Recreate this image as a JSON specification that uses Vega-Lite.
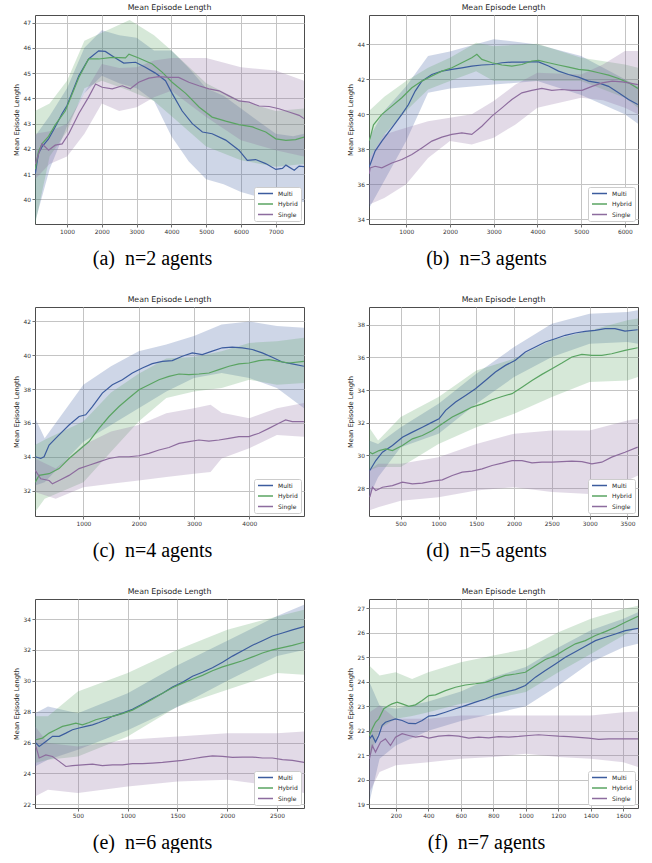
{
"$schema": "https://vega.github.io/schema/vega-lite/v6.json",
"background": "white",
"padding": {"left": 12, "top": 3, "right": 0, "bottom": 0},
"columns": 2,
"spacing": {"row": 26, "column": 41},
"resolve": {"scale": {"color": "independent"}, "legend": {"color": "independent"}},
"datasets": {
"L": [
{"p":"a","s":"Multi","x":90,"y":41.03},{"p":"a","s":"Multi","x":180,"y":41.82},{"p":"a","s":"Multi","x":280,"y":42.08},{"p":"a","s":"Multi","x":470,"y":42.4},{"p":"a","s":"Multi","x":660,"y":42.87},{"p":"a","s":"Multi","x":860,"y":43.4},{"p":"a","s":"Multi","x":1000,"y":43.72},{"p":"a","s":"Multi","x":1340,"y":44.9},{"p":"a","s":"Multi","x":1620,"y":45.56},{"p":"a","s":"Multi","x":1910,"y":45.88},{"p":"a","s":"Multi","x":2100,"y":45.86},{"p":"a","s":"Multi","x":2390,"y":45.6},{"p":"a","s":"Multi","x":2630,"y":45.4},{"p":"a","s":"Multi","x":2970,"y":45.43},{"p":"a","s":"Multi","x":3250,"y":45.23},{"p":"a","s":"Multi","x":3540,"y":45.0},{"p":"a","s":"Multi","x":3830,"y":44.7},{"p":"a","s":"Multi","x":4020,"y":44.2},{"p":"a","s":"Multi","x":4310,"y":43.5},{"p":"a","s":"Multi","x":4600,"y":43.0},{"p":"a","s":"Multi","x":4890,"y":42.67},{"p":"a","s":"Multi","x":5170,"y":42.6},{"p":"a","s":"Multi","x":5560,"y":42.35},{"p":"a","s":"Multi","x":5940,"y":41.95},{"p":"a","s":"Multi","x":6180,"y":41.55},{"p":"a","s":"Multi","x":6420,"y":41.58},{"p":"a","s":"Multi","x":6710,"y":41.42},{"p":"a","s":"Multi","x":7000,"y":41.19},{"p":"a","s":"Multi","x":7190,"y":41.23},{"p":"a","s":"Multi","x":7290,"y":41.36},{"p":"a","s":"Multi","x":7530,"y":41.16},{"p":"a","s":"Multi","x":7670,"y":41.32},{"p":"a","s":"Multi","x":7810,"y":41.3},
{"p":"a","s":"Hybrid","x":90,"y":41.2},{"p":"a","s":"Hybrid","x":180,"y":41.9},{"p":"a","s":"Hybrid","x":280,"y":42.2},{"p":"a","s":"Hybrid","x":470,"y":42.5},{"p":"a","s":"Hybrid","x":660,"y":42.95},{"p":"a","s":"Hybrid","x":950,"y":43.5},{"p":"a","s":"Hybrid","x":1340,"y":44.83},{"p":"a","s":"Hybrid","x":1620,"y":45.56},{"p":"a","s":"Hybrid","x":1910,"y":45.56},{"p":"a","s":"Hybrid","x":2300,"y":45.62},{"p":"a","s":"Hybrid","x":2680,"y":45.6},{"p":"a","s":"Hybrid","x":2780,"y":45.75},{"p":"a","s":"Hybrid","x":3060,"y":45.6},{"p":"a","s":"Hybrid","x":3450,"y":45.36},{"p":"a","s":"Hybrid","x":3740,"y":45.03},{"p":"a","s":"Hybrid","x":4020,"y":44.64},{"p":"a","s":"Hybrid","x":4410,"y":44.2},{"p":"a","s":"Hybrid","x":4800,"y":43.65},{"p":"a","s":"Hybrid","x":5170,"y":43.26},{"p":"a","s":"Hybrid","x":5560,"y":43.1},{"p":"a","s":"Hybrid","x":5940,"y":42.96},{"p":"a","s":"Hybrid","x":6330,"y":42.87},{"p":"a","s":"Hybrid","x":6710,"y":42.67},{"p":"a","s":"Hybrid","x":7000,"y":42.4},{"p":"a","s":"Hybrid","x":7290,"y":42.34},{"p":"a","s":"Hybrid","x":7570,"y":42.37},{"p":"a","s":"Hybrid","x":7810,"y":42.47},
{"p":"a","s":"Single","x":90,"y":41.4},{"p":"a","s":"Single","x":280,"y":42.2},{"p":"a","s":"Single","x":470,"y":41.95},{"p":"a","s":"Single","x":660,"y":42.15},{"p":"a","s":"Single","x":860,"y":42.2},{"p":"a","s":"Single","x":1050,"y":42.6},{"p":"a","s":"Single","x":1340,"y":43.4},{"p":"a","s":"Single","x":1620,"y":44.05},{"p":"a","s":"Single","x":1820,"y":44.57},{"p":"a","s":"Single","x":2010,"y":44.44},{"p":"a","s":"Single","x":2300,"y":44.38},{"p":"a","s":"Single","x":2590,"y":44.5},{"p":"a","s":"Single","x":2820,"y":44.38},{"p":"a","s":"Single","x":3060,"y":44.64},{"p":"a","s":"Single","x":3350,"y":44.8},{"p":"a","s":"Single","x":3640,"y":44.86},{"p":"a","s":"Single","x":3930,"y":44.83},{"p":"a","s":"Single","x":4210,"y":44.83},{"p":"a","s":"Single","x":4500,"y":44.64},{"p":"a","s":"Single","x":4790,"y":44.5},{"p":"a","s":"Single","x":5080,"y":44.38},{"p":"a","s":"Single","x":5370,"y":44.3},{"p":"a","s":"Single","x":5650,"y":44.1},{"p":"a","s":"Single","x":5940,"y":43.9},{"p":"a","s":"Single","x":6230,"y":43.85},{"p":"a","s":"Single","x":6520,"y":43.7},{"p":"a","s":"Single","x":6810,"y":43.68},{"p":"a","s":"Single","x":7090,"y":43.59},{"p":"a","s":"Single","x":7380,"y":43.46},{"p":"a","s":"Single","x":7670,"y":43.33},{"p":"a","s":"Single","x":7810,"y":43.2},

{"p":"b","s":"Multi","x":155,"y":37.0},{"p":"b","s":"Multi","x":177,"y":37.13},{"p":"b","s":"Multi","x":290,"y":37.9},{"p":"b","s":"Multi","x":444,"y":38.47},{"p":"b","s":"Multi","x":672,"y":39.23},{"p":"b","s":"Multi","x":900,"y":40.0},{"p":"b","s":"Multi","x":1053,"y":40.56},{"p":"b","s":"Multi","x":1206,"y":41.33},{"p":"b","s":"Multi","x":1358,"y":41.9},{"p":"b","s":"Multi","x":1587,"y":42.28},{"p":"b","s":"Multi","x":1816,"y":42.47},{"p":"b","s":"Multi","x":2044,"y":42.57},{"p":"b","s":"Multi","x":2273,"y":42.66},{"p":"b","s":"Multi","x":2500,"y":42.76},{"p":"b","s":"Multi","x":2730,"y":42.82},{"p":"b","s":"Multi","x":2960,"y":42.85},{"p":"b","s":"Multi","x":3190,"y":42.95},{"p":"b","s":"Multi","x":3416,"y":42.99},{"p":"b","s":"Multi","x":3645,"y":42.99},{"p":"b","s":"Multi","x":3873,"y":43.0},{"p":"b","s":"Multi","x":4026,"y":43.0},{"p":"b","s":"Multi","x":4255,"y":42.76},{"p":"b","s":"Multi","x":4483,"y":42.47},{"p":"b","s":"Multi","x":4712,"y":42.28},{"p":"b","s":"Multi","x":4940,"y":42.13},{"p":"b","s":"Multi","x":5170,"y":41.9},{"p":"b","s":"Multi","x":5398,"y":41.8},{"p":"b","s":"Multi","x":5627,"y":41.6},{"p":"b","s":"Multi","x":5855,"y":41.23},{"p":"b","s":"Multi","x":6084,"y":40.85},{"p":"b","s":"Multi","x":6297,"y":40.56},
{"p":"b","s":"Hybrid","x":155,"y":38.5},{"p":"b","s":"Hybrid","x":177,"y":38.66},{"p":"b","s":"Hybrid","x":253,"y":39.4},{"p":"b","s":"Hybrid","x":444,"y":40.0},{"p":"b","s":"Hybrid","x":672,"y":40.47},{"p":"b","s":"Hybrid","x":900,"y":40.95},{"p":"b","s":"Hybrid","x":1130,"y":41.52},{"p":"b","s":"Hybrid","x":1358,"y":41.9},{"p":"b","s":"Hybrid","x":1587,"y":42.19},{"p":"b","s":"Hybrid","x":1816,"y":42.47},{"p":"b","s":"Hybrid","x":2044,"y":42.66},{"p":"b","s":"Hybrid","x":2273,"y":42.95},{"p":"b","s":"Hybrid","x":2500,"y":43.24},{"p":"b","s":"Hybrid","x":2616,"y":43.43},{"p":"b","s":"Hybrid","x":2730,"y":43.14},{"p":"b","s":"Hybrid","x":2960,"y":42.95},{"p":"b","s":"Hybrid","x":3190,"y":42.82},{"p":"b","s":"Hybrid","x":3416,"y":42.76},{"p":"b","s":"Hybrid","x":3645,"y":42.85},{"p":"b","s":"Hybrid","x":3873,"y":43.05},{"p":"b","s":"Hybrid","x":4026,"y":43.08},{"p":"b","s":"Hybrid","x":4255,"y":42.95},{"p":"b","s":"Hybrid","x":4483,"y":42.82},{"p":"b","s":"Hybrid","x":4712,"y":42.7},{"p":"b","s":"Hybrid","x":4940,"y":42.57},{"p":"b","s":"Hybrid","x":5170,"y":42.51},{"p":"b","s":"Hybrid","x":5398,"y":42.38},{"p":"b","s":"Hybrid","x":5627,"y":42.24},{"p":"b","s":"Hybrid","x":5855,"y":42.05},{"p":"b","s":"Hybrid","x":6084,"y":41.8},{"p":"b","s":"Hybrid","x":6297,"y":41.48},
{"p":"b","s":"Single","x":155,"y":36.6},{"p":"b","s":"Single","x":177,"y":36.94},{"p":"b","s":"Single","x":290,"y":37.03},{"p":"b","s":"Single","x":444,"y":36.94},{"p":"b","s":"Single","x":672,"y":37.22},{"p":"b","s":"Single","x":900,"y":37.42},{"p":"b","s":"Single","x":1130,"y":37.7},{"p":"b","s":"Single","x":1358,"y":38.08},{"p":"b","s":"Single","x":1587,"y":38.47},{"p":"b","s":"Single","x":1816,"y":38.7},{"p":"b","s":"Single","x":2044,"y":38.85},{"p":"b","s":"Single","x":2273,"y":38.94},{"p":"b","s":"Single","x":2500,"y":38.85},{"p":"b","s":"Single","x":2730,"y":39.32},{"p":"b","s":"Single","x":2960,"y":39.9},{"p":"b","s":"Single","x":3190,"y":40.37},{"p":"b","s":"Single","x":3416,"y":40.85},{"p":"b","s":"Single","x":3645,"y":41.23},{"p":"b","s":"Single","x":3873,"y":41.37},{"p":"b","s":"Single","x":4102,"y":41.48},{"p":"b","s":"Single","x":4330,"y":41.37},{"p":"b","s":"Single","x":4560,"y":41.42},{"p":"b","s":"Single","x":4790,"y":41.37},{"p":"b","s":"Single","x":5020,"y":41.37},{"p":"b","s":"Single","x":5250,"y":41.6},{"p":"b","s":"Single","x":5480,"y":41.8},{"p":"b","s":"Single","x":5710,"y":41.9},{"p":"b","s":"Single","x":5940,"y":41.86},{"p":"b","s":"Single","x":6084,"y":41.8},{"p":"b","s":"Single","x":6297,"y":41.7},

{"p":"c","s":"Multi","x":130,"y":34.0},{"p":"c","s":"Multi","x":229,"y":33.9},{"p":"c","s":"Multi","x":289,"y":34.0},{"p":"c","s":"Multi","x":380,"y":34.69},{"p":"c","s":"Multi","x":560,"y":35.29},{"p":"c","s":"Multi","x":741,"y":35.88},{"p":"c","s":"Multi","x":922,"y":36.38},{"p":"c","s":"Multi","x":1042,"y":36.48},{"p":"c","s":"Multi","x":1163,"y":36.97},{"p":"c","s":"Multi","x":1343,"y":37.76},{"p":"c","s":"Multi","x":1524,"y":38.26},{"p":"c","s":"Multi","x":1705,"y":38.55},{"p":"c","s":"Multi","x":1886,"y":38.95},{"p":"c","s":"Multi","x":2066,"y":39.25},{"p":"c","s":"Multi","x":2247,"y":39.5},{"p":"c","s":"Multi","x":2428,"y":39.64},{"p":"c","s":"Multi","x":2608,"y":39.68},{"p":"c","s":"Multi","x":2789,"y":39.94},{"p":"c","s":"Multi","x":2970,"y":40.14},{"p":"c","s":"Multi","x":3150,"y":40.04},{"p":"c","s":"Multi","x":3331,"y":40.24},{"p":"c","s":"Multi","x":3512,"y":40.44},{"p":"c","s":"Multi","x":3693,"y":40.48},{"p":"c","s":"Multi","x":3873,"y":40.44},{"p":"c","s":"Multi","x":4054,"y":40.34},{"p":"c","s":"Multi","x":4235,"y":40.14},{"p":"c","s":"Multi","x":4416,"y":39.88},{"p":"c","s":"Multi","x":4596,"y":39.6},{"p":"c","s":"Multi","x":4777,"y":39.49},{"p":"c","s":"Multi","x":4988,"y":39.35},
{"p":"c","s":"Hybrid","x":130,"y":32.5},{"p":"c","s":"Hybrid","x":199,"y":32.9},{"p":"c","s":"Hybrid","x":380,"y":33.0},{"p":"c","s":"Hybrid","x":560,"y":33.3},{"p":"c","s":"Hybrid","x":741,"y":33.9},{"p":"c","s":"Hybrid","x":922,"y":34.4},{"p":"c","s":"Hybrid","x":1102,"y":34.9},{"p":"c","s":"Hybrid","x":1283,"y":35.68},{"p":"c","s":"Hybrid","x":1464,"y":36.38},{"p":"c","s":"Hybrid","x":1645,"y":36.97},{"p":"c","s":"Hybrid","x":1825,"y":37.47},{"p":"c","s":"Hybrid","x":2006,"y":37.96},{"p":"c","s":"Hybrid","x":2187,"y":38.26},{"p":"c","s":"Hybrid","x":2367,"y":38.55},{"p":"c","s":"Hybrid","x":2548,"y":38.75},{"p":"c","s":"Hybrid","x":2729,"y":38.89},{"p":"c","s":"Hybrid","x":2910,"y":38.85},{"p":"c","s":"Hybrid","x":3090,"y":38.89},{"p":"c","s":"Hybrid","x":3271,"y":38.95},{"p":"c","s":"Hybrid","x":3452,"y":39.15},{"p":"c","s":"Hybrid","x":3633,"y":39.35},{"p":"c","s":"Hybrid","x":3813,"y":39.49},{"p":"c","s":"Hybrid","x":3994,"y":39.54},{"p":"c","s":"Hybrid","x":4175,"y":39.68},{"p":"c","s":"Hybrid","x":4355,"y":39.74},{"p":"c","s":"Hybrid","x":4536,"y":39.64},{"p":"c","s":"Hybrid","x":4717,"y":39.54},{"p":"c","s":"Hybrid","x":4988,"y":39.64},
{"p":"c","s":"Single","x":130,"y":33.2},{"p":"c","s":"Single","x":229,"y":32.7},{"p":"c","s":"Single","x":380,"y":32.6},{"p":"c","s":"Single","x":440,"y":32.4},{"p":"c","s":"Single","x":560,"y":32.6},{"p":"c","s":"Single","x":741,"y":32.9},{"p":"c","s":"Single","x":922,"y":33.3},{"p":"c","s":"Single","x":1102,"y":33.5},{"p":"c","s":"Single","x":1283,"y":33.7},{"p":"c","s":"Single","x":1464,"y":33.9},{"p":"c","s":"Single","x":1645,"y":34.0},{"p":"c","s":"Single","x":1825,"y":34.0},{"p":"c","s":"Single","x":2006,"y":34.06},{"p":"c","s":"Single","x":2187,"y":34.2},{"p":"c","s":"Single","x":2367,"y":34.4},{"p":"c","s":"Single","x":2548,"y":34.55},{"p":"c","s":"Single","x":2729,"y":34.79},{"p":"c","s":"Single","x":2910,"y":34.89},{"p":"c","s":"Single","x":3090,"y":34.99},{"p":"c","s":"Single","x":3271,"y":34.93},{"p":"c","s":"Single","x":3452,"y":34.99},{"p":"c","s":"Single","x":3633,"y":35.09},{"p":"c","s":"Single","x":3813,"y":35.19},{"p":"c","s":"Single","x":3994,"y":35.19},{"p":"c","s":"Single","x":4175,"y":35.39},{"p":"c","s":"Single","x":4355,"y":35.68},{"p":"c","s":"Single","x":4536,"y":35.98},{"p":"c","s":"Single","x":4657,"y":36.18},{"p":"c","s":"Single","x":4777,"y":36.08},{"p":"c","s":"Single","x":4988,"y":36.08},

{"p":"d","s":"Multi","x":91,"y":29.08},{"p":"d","s":"Multi","x":170,"y":29.69},{"p":"d","s":"Multi","x":258,"y":30.2},{"p":"d","s":"Multi","x":390,"y":30.61},{"p":"d","s":"Multi","x":522,"y":31.12},{"p":"d","s":"Multi","x":654,"y":31.43},{"p":"d","s":"Multi","x":786,"y":31.73},{"p":"d","s":"Multi","x":918,"y":32.04},{"p":"d","s":"Multi","x":1006,"y":32.24},{"p":"d","s":"Multi","x":1094,"y":32.76},{"p":"d","s":"Multi","x":1226,"y":33.27},{"p":"d","s":"Multi","x":1358,"y":33.67},{"p":"d","s":"Multi","x":1489,"y":34.08},{"p":"d","s":"Multi","x":1621,"y":34.59},{"p":"d","s":"Multi","x":1753,"y":35.1},{"p":"d","s":"Multi","x":1885,"y":35.51},{"p":"d","s":"Multi","x":2017,"y":35.82},{"p":"d","s":"Multi","x":2149,"y":36.33},{"p":"d","s":"Multi","x":2281,"y":36.63},{"p":"d","s":"Multi","x":2413,"y":36.94},{"p":"d","s":"Multi","x":2545,"y":37.14},{"p":"d","s":"Multi","x":2677,"y":37.35},{"p":"d","s":"Multi","x":2809,"y":37.49},{"p":"d","s":"Multi","x":2941,"y":37.59},{"p":"d","s":"Multi","x":3073,"y":37.65},{"p":"d","s":"Multi","x":3205,"y":37.76},{"p":"d","s":"Multi","x":3336,"y":37.76},{"p":"d","s":"Multi","x":3468,"y":37.61},{"p":"d","s":"Multi","x":3636,"y":37.69},
{"p":"d","s":"Hybrid","x":91,"y":30.2},{"p":"d","s":"Hybrid","x":126,"y":30.1},{"p":"d","s":"Hybrid","x":214,"y":30.3},{"p":"d","s":"Hybrid","x":302,"y":30.4},{"p":"d","s":"Hybrid","x":390,"y":30.3},{"p":"d","s":"Hybrid","x":522,"y":30.61},{"p":"d","s":"Hybrid","x":654,"y":31.02},{"p":"d","s":"Hybrid","x":786,"y":31.22},{"p":"d","s":"Hybrid","x":918,"y":31.53},{"p":"d","s":"Hybrid","x":1050,"y":31.94},{"p":"d","s":"Hybrid","x":1182,"y":32.35},{"p":"d","s":"Hybrid","x":1314,"y":32.65},{"p":"d","s":"Hybrid","x":1445,"y":32.96},{"p":"d","s":"Hybrid","x":1577,"y":33.16},{"p":"d","s":"Hybrid","x":1709,"y":33.41},{"p":"d","s":"Hybrid","x":1841,"y":33.61},{"p":"d","s":"Hybrid","x":1973,"y":33.78},{"p":"d","s":"Hybrid","x":2105,"y":34.18},{"p":"d","s":"Hybrid","x":2237,"y":34.59},{"p":"d","s":"Hybrid","x":2369,"y":34.96},{"p":"d","s":"Hybrid","x":2501,"y":35.31},{"p":"d","s":"Hybrid","x":2633,"y":35.65},{"p":"d","s":"Hybrid","x":2765,"y":36.02},{"p":"d","s":"Hybrid","x":2897,"y":36.18},{"p":"d","s":"Hybrid","x":3029,"y":36.12},{"p":"d","s":"Hybrid","x":3161,"y":36.12},{"p":"d","s":"Hybrid","x":3292,"y":36.22},{"p":"d","s":"Hybrid","x":3468,"y":36.43},{"p":"d","s":"Hybrid","x":3636,"y":36.59},
{"p":"d","s":"Single","x":91,"y":27.45},{"p":"d","s":"Single","x":126,"y":28.06},{"p":"d","s":"Single","x":170,"y":27.86},{"p":"d","s":"Single","x":258,"y":28.06},{"p":"d","s":"Single","x":390,"y":28.16},{"p":"d","s":"Single","x":522,"y":28.37},{"p":"d","s":"Single","x":654,"y":28.27},{"p":"d","s":"Single","x":786,"y":28.31},{"p":"d","s":"Single","x":918,"y":28.43},{"p":"d","s":"Single","x":1050,"y":28.51},{"p":"d","s":"Single","x":1182,"y":28.78},{"p":"d","s":"Single","x":1314,"y":28.98},{"p":"d","s":"Single","x":1445,"y":29.04},{"p":"d","s":"Single","x":1577,"y":29.18},{"p":"d","s":"Single","x":1709,"y":29.39},{"p":"d","s":"Single","x":1841,"y":29.53},{"p":"d","s":"Single","x":1973,"y":29.69},{"p":"d","s":"Single","x":2105,"y":29.69},{"p":"d","s":"Single","x":2237,"y":29.55},{"p":"d","s":"Single","x":2369,"y":29.59},{"p":"d","s":"Single","x":2501,"y":29.59},{"p":"d","s":"Single","x":2633,"y":29.63},{"p":"d","s":"Single","x":2765,"y":29.65},{"p":"d","s":"Single","x":2897,"y":29.63},{"p":"d","s":"Single","x":3029,"y":29.49},{"p":"d","s":"Single","x":3161,"y":29.59},{"p":"d","s":"Single","x":3292,"y":29.9},{"p":"d","s":"Single","x":3468,"y":30.2},{"p":"d","s":"Single","x":3636,"y":30.51},

{"p":"e","s":"Multi","x":79,"y":25.97},{"p":"e","s":"Multi","x":112,"y":25.75},{"p":"e","s":"Multi","x":179,"y":26.07},{"p":"e","s":"Multi","x":246,"y":26.4},{"p":"e","s":"Multi","x":313,"y":26.4},{"p":"e","s":"Multi","x":380,"y":26.61},{"p":"e","s":"Multi","x":446,"y":26.83},{"p":"e","s":"Multi","x":513,"y":26.94},{"p":"e","s":"Multi","x":580,"y":27.05},{"p":"e","s":"Multi","x":647,"y":27.15},{"p":"e","s":"Multi","x":714,"y":27.3},{"p":"e","s":"Multi","x":781,"y":27.48},{"p":"e","s":"Multi","x":848,"y":27.7},{"p":"e","s":"Multi","x":948,"y":27.91},{"p":"e","s":"Multi","x":1048,"y":28.15},{"p":"e","s":"Multi","x":1149,"y":28.5},{"p":"e","s":"Multi","x":1249,"y":28.85},{"p":"e","s":"Multi","x":1350,"y":29.2},{"p":"e","s":"Multi","x":1450,"y":29.6},{"p":"e","s":"Multi","x":1550,"y":29.9},{"p":"e","s":"Multi","x":1651,"y":30.3},{"p":"e","s":"Multi","x":1751,"y":30.55},{"p":"e","s":"Multi","x":1851,"y":30.85},{"p":"e","s":"Multi","x":1952,"y":31.2},{"p":"e","s":"Multi","x":2052,"y":31.6},{"p":"e","s":"Multi","x":2152,"y":31.95},{"p":"e","s":"Multi","x":2253,"y":32.3},{"p":"e","s":"Multi","x":2353,"y":32.6},{"p":"e","s":"Multi","x":2453,"y":32.9},{"p":"e","s":"Multi","x":2554,"y":33.1},{"p":"e","s":"Multi","x":2654,"y":33.3},{"p":"e","s":"Multi","x":2771,"y":33.52},
{"p":"e","s":"Hybrid","x":79,"y":26.18},{"p":"e","s":"Hybrid","x":145,"y":26.29},{"p":"e","s":"Hybrid","x":212,"y":26.61},{"p":"e","s":"Hybrid","x":279,"y":26.83},{"p":"e","s":"Hybrid","x":346,"y":27.05},{"p":"e","s":"Hybrid","x":413,"y":27.15},{"p":"e","s":"Hybrid","x":480,"y":27.26},{"p":"e","s":"Hybrid","x":546,"y":27.15},{"p":"e","s":"Hybrid","x":613,"y":27.3},{"p":"e","s":"Hybrid","x":680,"y":27.48},{"p":"e","s":"Hybrid","x":747,"y":27.59},{"p":"e","s":"Hybrid","x":848,"y":27.7},{"p":"e","s":"Hybrid","x":948,"y":27.87},{"p":"e","s":"Hybrid","x":1048,"y":28.1},{"p":"e","s":"Hybrid","x":1149,"y":28.45},{"p":"e","s":"Hybrid","x":1249,"y":28.8},{"p":"e","s":"Hybrid","x":1350,"y":29.2},{"p":"e","s":"Hybrid","x":1450,"y":29.55},{"p":"e","s":"Hybrid","x":1550,"y":29.85},{"p":"e","s":"Hybrid","x":1651,"y":30.1},{"p":"e","s":"Hybrid","x":1751,"y":30.35},{"p":"e","s":"Hybrid","x":1851,"y":30.65},{"p":"e","s":"Hybrid","x":1952,"y":30.9},{"p":"e","s":"Hybrid","x":2052,"y":31.1},{"p":"e","s":"Hybrid","x":2152,"y":31.3},{"p":"e","s":"Hybrid","x":2253,"y":31.55},{"p":"e","s":"Hybrid","x":2353,"y":31.8},{"p":"e","s":"Hybrid","x":2453,"y":32.0},{"p":"e","s":"Hybrid","x":2554,"y":32.15},{"p":"e","s":"Hybrid","x":2654,"y":32.3},{"p":"e","s":"Hybrid","x":2771,"y":32.5},
{"p":"e","s":"Single","x":79,"y":25.75},{"p":"e","s":"Single","x":112,"y":25.0},{"p":"e","s":"Single","x":179,"y":25.2},{"p":"e","s":"Single","x":246,"y":25.1},{"p":"e","s":"Single","x":313,"y":24.78},{"p":"e","s":"Single","x":380,"y":24.45},{"p":"e","s":"Single","x":446,"y":24.5},{"p":"e","s":"Single","x":547,"y":24.56},{"p":"e","s":"Single","x":647,"y":24.6},{"p":"e","s":"Single","x":747,"y":24.5},{"p":"e","s":"Single","x":848,"y":24.56},{"p":"e","s":"Single","x":948,"y":24.56},{"p":"e","s":"Single","x":1048,"y":24.63},{"p":"e","s":"Single","x":1149,"y":24.63},{"p":"e","s":"Single","x":1249,"y":24.67},{"p":"e","s":"Single","x":1350,"y":24.71},{"p":"e","s":"Single","x":1450,"y":24.78},{"p":"e","s":"Single","x":1550,"y":24.84},{"p":"e","s":"Single","x":1651,"y":24.95},{"p":"e","s":"Single","x":1751,"y":25.06},{"p":"e","s":"Single","x":1851,"y":25.14},{"p":"e","s":"Single","x":1952,"y":25.1},{"p":"e","s":"Single","x":2052,"y":25.04},{"p":"e","s":"Single","x":2152,"y":25.06},{"p":"e","s":"Single","x":2253,"y":25.06},{"p":"e","s":"Single","x":2353,"y":25.0},{"p":"e","s":"Single","x":2453,"y":25.0},{"p":"e","s":"Single","x":2554,"y":24.89},{"p":"e","s":"Single","x":2654,"y":24.84},{"p":"e","s":"Single","x":2771,"y":24.71},

{"p":"f","s":"Multi","x":38,"y":21.67},{"p":"f","s":"Multi","x":55,"y":21.81},{"p":"f","s":"Multi","x":75,"y":21.54},{"p":"f","s":"Multi","x":95,"y":21.81},{"p":"f","s":"Multi","x":116,"y":22.22},{"p":"f","s":"Multi","x":136,"y":22.35},{"p":"f","s":"Multi","x":167,"y":22.42},{"p":"f","s":"Multi","x":198,"y":22.49},{"p":"f","s":"Multi","x":239,"y":22.42},{"p":"f","s":"Multi","x":280,"y":22.3},{"p":"f","s":"Multi","x":321,"y":22.29},{"p":"f","s":"Multi","x":362,"y":22.42},{"p":"f","s":"Multi","x":403,"y":22.6},{"p":"f","s":"Multi","x":444,"y":22.63},{"p":"f","s":"Multi","x":505,"y":22.76},{"p":"f","s":"Multi","x":567,"y":22.9},{"p":"f","s":"Multi","x":628,"y":23.03},{"p":"f","s":"Multi","x":690,"y":23.17},{"p":"f","s":"Multi","x":751,"y":23.3},{"p":"f","s":"Multi","x":813,"y":23.47},{"p":"f","s":"Multi","x":874,"y":23.58},{"p":"f","s":"Multi","x":936,"y":23.68},{"p":"f","s":"Multi","x":997,"y":23.85},{"p":"f","s":"Multi","x":1059,"y":24.19},{"p":"f","s":"Multi","x":1120,"y":24.46},{"p":"f","s":"Multi","x":1182,"y":24.73},{"p":"f","s":"Multi","x":1243,"y":25.0},{"p":"f","s":"Multi","x":1305,"y":25.23},{"p":"f","s":"Multi","x":1366,"y":25.45},{"p":"f","s":"Multi","x":1428,"y":25.68},{"p":"f","s":"Multi","x":1489,"y":25.82},{"p":"f","s":"Multi","x":1551,"y":25.95},{"p":"f","s":"Multi","x":1612,"y":26.09},{"p":"f","s":"Multi","x":1690,"y":26.18},
{"p":"f","s":"Hybrid","x":38,"y":21.81},{"p":"f","s":"Hybrid","x":55,"y":22.08},{"p":"f","s":"Hybrid","x":75,"y":22.35},{"p":"f","s":"Hybrid","x":95,"y":22.49},{"p":"f","s":"Hybrid","x":126,"y":22.9},{"p":"f","s":"Hybrid","x":157,"y":23.03},{"p":"f","s":"Hybrid","x":177,"y":23.1},{"p":"f","s":"Hybrid","x":208,"y":23.17},{"p":"f","s":"Hybrid","x":239,"y":23.1},{"p":"f","s":"Hybrid","x":280,"y":23.0},{"p":"f","s":"Hybrid","x":321,"y":23.06},{"p":"f","s":"Hybrid","x":362,"y":23.24},{"p":"f","s":"Hybrid","x":403,"y":23.44},{"p":"f","s":"Hybrid","x":444,"y":23.47},{"p":"f","s":"Hybrid","x":505,"y":23.64},{"p":"f","s":"Hybrid","x":567,"y":23.78},{"p":"f","s":"Hybrid","x":628,"y":23.87},{"p":"f","s":"Hybrid","x":690,"y":23.92},{"p":"f","s":"Hybrid","x":751,"y":23.98},{"p":"f","s":"Hybrid","x":813,"y":24.12},{"p":"f","s":"Hybrid","x":874,"y":24.26},{"p":"f","s":"Hybrid","x":936,"y":24.32},{"p":"f","s":"Hybrid","x":997,"y":24.39},{"p":"f","s":"Hybrid","x":1059,"y":24.66},{"p":"f","s":"Hybrid","x":1120,"y":24.91},{"p":"f","s":"Hybrid","x":1182,"y":25.07},{"p":"f","s":"Hybrid","x":1243,"y":25.32},{"p":"f","s":"Hybrid","x":1305,"y":25.55},{"p":"f","s":"Hybrid","x":1366,"y":25.68},{"p":"f","s":"Hybrid","x":1428,"y":25.89},{"p":"f","s":"Hybrid","x":1489,"y":26.05},{"p":"f","s":"Hybrid","x":1551,"y":26.23},{"p":"f","s":"Hybrid","x":1612,"y":26.43},{"p":"f","s":"Hybrid","x":1690,"y":26.67},
{"p":"f","s":"Single","x":38,"y":20.86},{"p":"f","s":"Single","x":55,"y":21.4},{"p":"f","s":"Single","x":75,"y":21.13},{"p":"f","s":"Single","x":106,"y":21.54},{"p":"f","s":"Single","x":136,"y":21.67},{"p":"f","s":"Single","x":167,"y":21.4},{"p":"f","s":"Single","x":198,"y":21.74},{"p":"f","s":"Single","x":239,"y":21.88},{"p":"f","s":"Single","x":280,"y":21.81},{"p":"f","s":"Single","x":321,"y":21.74},{"p":"f","s":"Single","x":362,"y":21.78},{"p":"f","s":"Single","x":403,"y":21.7},{"p":"f","s":"Single","x":464,"y":21.78},{"p":"f","s":"Single","x":526,"y":21.81},{"p":"f","s":"Single","x":587,"y":21.78},{"p":"f","s":"Single","x":649,"y":21.7},{"p":"f","s":"Single","x":710,"y":21.74},{"p":"f","s":"Single","x":772,"y":21.71},{"p":"f","s":"Single","x":833,"y":21.76},{"p":"f","s":"Single","x":895,"y":21.74},{"p":"f","s":"Single","x":956,"y":21.77},{"p":"f","s":"Single","x":1018,"y":21.81},{"p":"f","s":"Single","x":1079,"y":21.84},{"p":"f","s":"Single","x":1141,"y":21.81},{"p":"f","s":"Single","x":1202,"y":21.78},{"p":"f","s":"Single","x":1264,"y":21.76},{"p":"f","s":"Single","x":1325,"y":21.73},{"p":"f","s":"Single","x":1387,"y":21.7},{"p":"f","s":"Single","x":1448,"y":21.65},{"p":"f","s":"Single","x":1510,"y":21.67},{"p":"f","s":"Single","x":1571,"y":21.67},{"p":"f","s":"Single","x":1632,"y":21.67},{"p":"f","s":"Single","x":1690,"y":21.67}
],
"B": [
{"p":"a","s":"Multi","x":80,"lo":39.1,"hi":42.5},{"p":"a","s":"Multi","x":500,"lo":41.2,"hi":43.3},{"p":"a","s":"Multi","x":1000,"lo":42.9,"hi":44.4},{"p":"a","s":"Multi","x":1500,"lo":44.2,"hi":46.0},{"p":"a","s":"Multi","x":2000,"lo":44.9,"hi":46.7},{"p":"a","s":"Multi","x":2500,"lo":44.6,"hi":46.5},{"p":"a","s":"Multi","x":3000,"lo":44.4,"hi":46.4},{"p":"a","s":"Multi","x":3500,"lo":43.9,"hi":45.9},{"p":"a","s":"Multi","x":4000,"lo":42.5,"hi":45.9},{"p":"a","s":"Multi","x":4500,"lo":41.5,"hi":45.2},{"p":"a","s":"Multi","x":5000,"lo":40.8,"hi":44.4},{"p":"a","s":"Multi","x":5500,"lo":40.6,"hi":44.1},{"p":"a","s":"Multi","x":6000,"lo":40.3,"hi":43.6},{"p":"a","s":"Multi","x":6500,"lo":40.1,"hi":43.1},{"p":"a","s":"Multi","x":7000,"lo":40.0,"hi":42.6},{"p":"a","s":"Multi","x":7500,"lo":39.9,"hi":42.5},{"p":"a","s":"Multi","x":7810,"lo":39.9,"hi":42.6},
{"p":"a","s":"Hybrid","x":80,"lo":39.0,"hi":43.5},{"p":"a","s":"Hybrid","x":500,"lo":41.7,"hi":43.8},{"p":"a","s":"Hybrid","x":1000,"lo":42.7,"hi":44.7},{"p":"a","s":"Hybrid","x":1500,"lo":44.4,"hi":46.28},{"p":"a","s":"Hybrid","x":2000,"lo":44.7,"hi":46.6},{"p":"a","s":"Hybrid","x":2800,"lo":44.3,"hi":47.1},{"p":"a","s":"Hybrid","x":3500,"lo":43.9,"hi":46.5},{"p":"a","s":"Hybrid","x":4000,"lo":43.3,"hi":45.9},{"p":"a","s":"Hybrid","x":5000,"lo":42.1,"hi":44.6},{"p":"a","s":"Hybrid","x":6000,"lo":41.55,"hi":43.9},{"p":"a","s":"Hybrid","x":7000,"lo":41.3,"hi":43.5},{"p":"a","s":"Hybrid","x":7810,"lo":41.4,"hi":43.6},
{"p":"a","s":"Single","x":80,"lo":40.8,"hi":42.6},{"p":"a","s":"Single","x":500,"lo":41.4,"hi":42.7},{"p":"a","s":"Single","x":1000,"lo":41.7,"hi":43.0},{"p":"a","s":"Single","x":1500,"lo":42.6,"hi":44.2},{"p":"a","s":"Single","x":2000,"lo":43.8,"hi":45.36},{"p":"a","s":"Single","x":2500,"lo":43.5,"hi":45.2},{"p":"a","s":"Single","x":3000,"lo":43.65,"hi":45.23},{"p":"a","s":"Single","x":3500,"lo":44.05,"hi":45.5},{"p":"a","s":"Single","x":4000,"lo":44.3,"hi":45.6},{"p":"a","s":"Single","x":5000,"lo":43.26,"hi":45.6},{"p":"a","s":"Single","x":6000,"lo":42.34,"hi":45.23},{"p":"a","s":"Single","x":7000,"lo":41.95,"hi":45.1},{"p":"a","s":"Single","x":7810,"lo":41.7,"hi":44.7},

{"p":"b","s":"Multi","x":155,"lo":34.65,"hi":38.66},{"p":"b","s":"Multi","x":500,"lo":36.2,"hi":40.2},{"p":"b","s":"Multi","x":1000,"lo":38.47,"hi":41.6},{"p":"b","s":"Multi","x":1500,"lo":41.23,"hi":43.33},{"p":"b","s":"Multi","x":2000,"lo":41.48,"hi":43.6},{"p":"b","s":"Multi","x":3000,"lo":41.7,"hi":44.3},{"p":"b","s":"Multi","x":4000,"lo":41.9,"hi":44.0},{"p":"b","s":"Multi","x":5000,"lo":41.1,"hi":43.33},{"p":"b","s":"Multi","x":6000,"lo":40.0,"hi":42.0},{"p":"b","s":"Multi","x":6300,"lo":39.46,"hi":41.6},
{"p":"b","s":"Hybrid","x":155,"lo":37.5,"hi":40.2},{"p":"b","s":"Hybrid","x":500,"lo":38.85,"hi":41.0},{"p":"b","s":"Hybrid","x":1000,"lo":40.2,"hi":41.9},{"p":"b","s":"Hybrid","x":1500,"lo":41.42,"hi":42.66},{"p":"b","s":"Hybrid","x":2000,"lo":41.9,"hi":43.24},{"p":"b","s":"Hybrid","x":2600,"lo":42.47,"hi":44.1},{"p":"b","s":"Hybrid","x":3000,"lo":41.9,"hi":43.9},{"p":"b","s":"Hybrid","x":4000,"lo":41.9,"hi":44.04},{"p":"b","s":"Hybrid","x":5000,"lo":41.9,"hi":43.24},{"p":"b","s":"Hybrid","x":6000,"lo":40.95,"hi":42.85},{"p":"b","s":"Hybrid","x":6300,"lo":40.37,"hi":42.66},
{"p":"b","s":"Single","x":155,"lo":34.84,"hi":37.5},{"p":"b","s":"Single","x":500,"lo":35.22,"hi":38.85},{"p":"b","s":"Single","x":1000,"lo":36.0,"hi":39.23},{"p":"b","s":"Single","x":1500,"lo":37.5,"hi":39.6},{"p":"b","s":"Single","x":2000,"lo":38.47,"hi":39.8},{"p":"b","s":"Single","x":2500,"lo":38.27,"hi":40.0},{"p":"b","s":"Single","x":3000,"lo":38.66,"hi":40.76},{"p":"b","s":"Single","x":3500,"lo":39.42,"hi":41.7},{"p":"b","s":"Single","x":4000,"lo":40.37,"hi":42.38},{"p":"b","s":"Single","x":5000,"lo":40.95,"hi":42.28},{"p":"b","s":"Single","x":5500,"lo":40.8,"hi":42.85},{"p":"b","s":"Single","x":6000,"lo":40.37,"hi":43.62},{"p":"b","s":"Single","x":6300,"lo":40.0,"hi":43.62},

{"p":"c","s":"Multi","x":125,"lo":32.3,"hi":36.3},{"p":"c","s":"Multi","x":300,"lo":32.5,"hi":35.1},{"p":"c","s":"Multi","x":1000,"lo":34.89,"hi":38.26},{"p":"c","s":"Multi","x":1500,"lo":35.88,"hi":39.35},{"p":"c","s":"Multi","x":2000,"lo":36.87,"hi":40.24},{"p":"c","s":"Multi","x":2500,"lo":37.86,"hi":40.63},{"p":"c","s":"Multi","x":3000,"lo":38.65,"hi":41.13},{"p":"c","s":"Multi","x":3500,"lo":38.95,"hi":41.82},{"p":"c","s":"Multi","x":4000,"lo":38.65,"hi":42.0},{"p":"c","s":"Multi","x":4500,"lo":38.06,"hi":41.72},{"p":"c","s":"Multi","x":4990,"lo":36.87,"hi":41.62},
{"p":"c","s":"Hybrid","x":125,"lo":30.73,"hi":34.69},{"p":"c","s":"Hybrid","x":300,"lo":31.52,"hi":35.0},{"p":"c","s":"Hybrid","x":1000,"lo":32.5,"hi":36.08},{"p":"c","s":"Hybrid","x":1500,"lo":34.3,"hi":37.8},{"p":"c","s":"Hybrid","x":2000,"lo":36.08,"hi":38.9},{"p":"c","s":"Hybrid","x":2500,"lo":37.47,"hi":39.8},{"p":"c","s":"Hybrid","x":3000,"lo":37.86,"hi":39.9},{"p":"c","s":"Hybrid","x":3500,"lo":38.06,"hi":40.24},{"p":"c","s":"Hybrid","x":4000,"lo":38.55,"hi":40.73},{"p":"c","s":"Hybrid","x":4500,"lo":38.26,"hi":40.83},{"p":"c","s":"Hybrid","x":4990,"lo":38.36,"hi":41.03},
{"p":"c","s":"Single","x":125,"lo":31.92,"hi":33.9},{"p":"c","s":"Single","x":500,"lo":31.52,"hi":33.3},{"p":"c","s":"Single","x":1000,"lo":32.2,"hi":34.69},{"p":"c","s":"Single","x":1500,"lo":32.4,"hi":35.49},{"p":"c","s":"Single","x":2000,"lo":32.6,"hi":35.88},{"p":"c","s":"Single","x":2500,"lo":32.8,"hi":36.57},{"p":"c","s":"Single","x":3000,"lo":33.0,"hi":36.87},{"p":"c","s":"Single","x":3300,"lo":33.1,"hi":37.07},{"p":"c","s":"Single","x":3500,"lo":33.9,"hi":36.6},{"p":"c","s":"Single","x":4000,"lo":34.5,"hi":36.28},{"p":"c","s":"Single","x":4500,"lo":35.29,"hi":36.87},{"p":"c","s":"Single","x":4990,"lo":35.19,"hi":37.17},

{"p":"d","s":"Multi","x":80,"lo":27.45,"hi":30.92},{"p":"d","s":"Multi","x":200,"lo":28.67,"hi":30.71},{"p":"d","s":"Multi","x":500,"lo":30.51,"hi":31.73},{"p":"d","s":"Multi","x":1000,"lo":31.33,"hi":33.16},{"p":"d","s":"Multi","x":1500,"lo":33.16,"hi":35.0},{"p":"d","s":"Multi","x":2000,"lo":34.8,"hi":36.63},{"p":"d","s":"Multi","x":2500,"lo":36.02,"hi":38.06},{"p":"d","s":"Multi","x":3000,"lo":36.84,"hi":38.67},{"p":"d","s":"Multi","x":3500,"lo":36.94,"hi":38.78},{"p":"d","s":"Multi","x":3640,"lo":36.84,"hi":38.88},
{"p":"d","s":"Hybrid","x":80,"lo":29.08,"hi":31.73},{"p":"d","s":"Hybrid","x":200,"lo":29.3,"hi":30.92},{"p":"d","s":"Hybrid","x":500,"lo":29.29,"hi":32.35},{"p":"d","s":"Hybrid","x":1000,"lo":30.71,"hi":33.57},{"p":"d","s":"Hybrid","x":1500,"lo":31.73,"hi":35.2},{"p":"d","s":"Hybrid","x":2000,"lo":32.55,"hi":35.92},{"p":"d","s":"Hybrid","x":2500,"lo":33.57,"hi":37.04},{"p":"d","s":"Hybrid","x":3000,"lo":34.49,"hi":37.65},{"p":"d","s":"Hybrid","x":3500,"lo":34.59,"hi":38.27},{"p":"d","s":"Hybrid","x":3640,"lo":34.8,"hi":38.37},
{"p":"d","s":"Single","x":80,"lo":26.63,"hi":29.08},{"p":"d","s":"Single","x":200,"lo":26.84,"hi":29.49},{"p":"d","s":"Single","x":500,"lo":27.24,"hi":29.49},{"p":"d","s":"Single","x":1000,"lo":27.45,"hi":29.9},{"p":"d","s":"Single","x":1500,"lo":27.86,"hi":30.71},{"p":"d","s":"Single","x":2000,"lo":28.06,"hi":31.33},{"p":"d","s":"Single","x":2500,"lo":27.76,"hi":31.53},{"p":"d","s":"Single","x":3000,"lo":27.65,"hi":31.53},{"p":"d","s":"Single","x":3500,"lo":28.47,"hi":32.14},{"p":"d","s":"Single","x":3640,"lo":28.78,"hi":32.24},

{"p":"e","s":"Multi","x":70,"lo":24.45,"hi":27.9},{"p":"e","s":"Multi","x":200,"lo":24.89,"hi":28.34},{"p":"e","s":"Multi","x":500,"lo":25.53,"hi":27.9},{"p":"e","s":"Multi","x":1000,"lo":26.8,"hi":29.2},{"p":"e","s":"Multi","x":1500,"lo":28.3,"hi":31.0},{"p":"e","s":"Multi","x":2000,"lo":30.0,"hi":32.6},{"p":"e","s":"Multi","x":2500,"lo":31.6,"hi":34.2},{"p":"e","s":"Multi","x":2770,"lo":32.0,"hi":34.93},
{"p":"e","s":"Hybrid","x":70,"lo":24.67,"hi":27.7},{"p":"e","s":"Hybrid","x":200,"lo":24.89,"hi":27.7},{"p":"e","s":"Hybrid","x":500,"lo":25.1,"hi":29.3},{"p":"e","s":"Hybrid","x":1000,"lo":26.4,"hi":30.5},{"p":"e","s":"Hybrid","x":1500,"lo":28.34,"hi":32.01},{"p":"e","s":"Hybrid","x":2000,"lo":29.42,"hi":33.31},{"p":"e","s":"Hybrid","x":2500,"lo":30.5,"hi":34.17},{"p":"e","s":"Hybrid","x":2770,"lo":30.4,"hi":34.6},
{"p":"e","s":"Single","x":70,"lo":22.51,"hi":27.05},{"p":"e","s":"Single","x":200,"lo":22.94,"hi":25.97},{"p":"e","s":"Single","x":500,"lo":22.73,"hi":25.75},{"p":"e","s":"Single","x":1000,"lo":23.16,"hi":26.18},{"p":"e","s":"Single","x":1500,"lo":23.48,"hi":26.4},{"p":"e","s":"Single","x":2000,"lo":23.59,"hi":26.61},{"p":"e","s":"Single","x":2500,"lo":23.16,"hi":26.61},{"p":"e","s":"Single","x":2770,"lo":22.73,"hi":26.72},

{"p":"f","s":"Multi","x":38,"lo":19.09,"hi":23.98},{"p":"f","s":"Multi","x":100,"lo":20.86,"hi":23.03},{"p":"f","s":"Multi","x":200,"lo":21.4,"hi":22.9},{"p":"f","s":"Multi","x":400,"lo":22.0,"hi":23.2},{"p":"f","s":"Multi","x":600,"lo":22.4,"hi":23.6},{"p":"f","s":"Multi","x":800,"lo":22.7,"hi":24.2},{"p":"f","s":"Multi","x":1000,"lo":23.0,"hi":24.6},{"p":"f","s":"Multi","x":1200,"lo":23.85,"hi":25.4},{"p":"f","s":"Multi","x":1400,"lo":24.8,"hi":26.1},{"p":"f","s":"Multi","x":1600,"lo":25.41,"hi":26.57},{"p":"f","s":"Multi","x":1690,"lo":25.55,"hi":26.84},
{"p":"f","s":"Hybrid","x":38,"lo":20.86,"hi":24.66},{"p":"f","s":"Hybrid","x":100,"lo":22.08,"hi":24.26},{"p":"f","s":"Hybrid","x":200,"lo":22.49,"hi":24.39},{"p":"f","s":"Hybrid","x":300,"lo":22.6,"hi":24.12},{"p":"f","s":"Hybrid","x":400,"lo":22.76,"hi":24.39},{"p":"f","s":"Hybrid","x":600,"lo":23.1,"hi":24.8},{"p":"f","s":"Hybrid","x":800,"lo":23.3,"hi":25.07},{"p":"f","s":"Hybrid","x":1000,"lo":23.58,"hi":25.34},{"p":"f","s":"Hybrid","x":1200,"lo":24.39,"hi":26.02},{"p":"f","s":"Hybrid","x":1400,"lo":25.14,"hi":26.57},{"p":"f","s":"Hybrid","x":1600,"lo":25.89,"hi":26.97},{"p":"f","s":"Hybrid","x":1690,"lo":26.23,"hi":27.1},
{"p":"f","s":"Single","x":38,"lo":19.5,"hi":22.76},{"p":"f","s":"Single","x":100,"lo":20.32,"hi":23.03},{"p":"f","s":"Single","x":200,"lo":20.59,"hi":22.49},{"p":"f","s":"Single","x":400,"lo":20.72,"hi":22.49},{"p":"f","s":"Single","x":600,"lo":20.86,"hi":22.63},{"p":"f","s":"Single","x":800,"lo":20.93,"hi":22.63},{"p":"f","s":"Single","x":1000,"lo":21.06,"hi":22.63},{"p":"f","s":"Single","x":1200,"lo":20.93,"hi":22.63},{"p":"f","s":"Single","x":1400,"lo":20.86,"hi":22.63},{"p":"f","s":"Single","x":1600,"lo":20.72,"hi":22.76},{"p":"f","s":"Single","x":1690,"lo":20.52,"hi":22.79}
]
},
"concat": [
{"width":269,"height":209,"title":"Mean Episode Length","layer":[
 {"data":{"name":"B"},"transform":[{"filter":"datum.p==='a'"}],"mark":{"type":"area","opacity":0.25,"clip":true},"encoding":{
  "x":{"field":"x","type":"quantitative","scale":{"domain":[80,7810],"nice":false,"zero":false},"axis":{"values":[1000,2000,3000,4000,5000,6000,7000],"format":"d","title":"(a)\u00a0 n=2 agents"}},
  "y":{"field":"lo","type":"quantitative","scale":{"domain":[39.03,47.3],"nice":false,"zero":false},"axis":{"values":[40,41,42,43,44,45,46,47],"format":"d","title":"Mean Episode Length"}},
  "y2":{"field":"hi"},
  "fill":{"field":"s","type":"nominal","scale":{"domain":["Multi","Hybrid","Single"],"range":["#3c5c9e","#5aa462","#8d6c9e"]},"legend":null}}},
 {"data":{"name":"L"},"transform":[{"filter":"datum.p==='a'"}],"mark":{"type":"line","strokeWidth":1.2,"clip":true},"encoding":{
  "x":{"field":"x","type":"quantitative","scale":{"domain":[80,7810],"nice":false,"zero":false},"axis":{"values":[1000,2000,3000,4000,5000,6000,7000],"format":"d","title":"(a)\u00a0 n=2 agents"}},
  "y":{"field":"y","type":"quantitative","scale":{"domain":[39.03,47.3],"nice":false,"zero":false},"axis":{"values":[40,41,42,43,44,45,46,47],"format":"d","title":"Mean Episode Length"}},
  "color":{"field":"s","type":"nominal","scale":{"domain":["Multi","Hybrid","Single"],"range":["#3c5c9e","#5aa462","#8d6c9e"]},"legend":{"title":null}}}}
]},
{"width":269,"height":209,"title":"Mean Episode Length","layer":[
 {"data":{"name":"B"},"transform":[{"filter":"datum.p==='b'"}],"mark":{"type":"area","opacity":0.25,"clip":true},"encoding":{
  "x":{"field":"x","type":"quantitative","scale":{"domain":[150,6300],"nice":false,"zero":false},"axis":{"values":[1000,2000,3000,4000,5000,6000],"format":"d","title":"(b)\u00a0 n=3 agents"}},
  "y":{"field":"lo","type":"quantitative","scale":{"domain":[33.73,45.68],"nice":false,"zero":false},"axis":{"values":[34,36,38,40,42,44],"format":"d","title":"Mean Episode Length"}},
  "y2":{"field":"hi"},
  "fill":{"field":"s","type":"nominal","scale":{"domain":["Multi","Hybrid","Single"],"range":["#3c5c9e","#5aa462","#8d6c9e"]},"legend":null}}},
 {"data":{"name":"L"},"transform":[{"filter":"datum.p==='b'"}],"mark":{"type":"line","strokeWidth":1.2,"clip":true},"encoding":{
  "x":{"field":"x","type":"quantitative","scale":{"domain":[150,6300],"nice":false,"zero":false},"axis":{"values":[1000,2000,3000,4000,5000,6000],"format":"d","title":"(b)\u00a0 n=3 agents"}},
  "y":{"field":"y","type":"quantitative","scale":{"domain":[33.73,45.68],"nice":false,"zero":false},"axis":{"values":[34,36,38,40,42,44],"format":"d","title":"Mean Episode Length"}},
  "color":{"field":"s","type":"nominal","scale":{"domain":["Multi","Hybrid","Single"],"range":["#3c5c9e","#5aa462","#8d6c9e"]},"legend":{"title":null}}}}
]},
{"width":269,"height":209,"title":"Mean Episode Length","layer":[
 {"data":{"name":"B"},"transform":[{"filter":"datum.p==='c'"}],"mark":{"type":"area","opacity":0.25,"clip":true},"encoding":{
  "x":{"field":"x","type":"quantitative","scale":{"domain":[125,4990],"nice":false,"zero":false},"axis":{"values":[1000,2000,3000,4000],"format":"d","title":"(c)\u00a0 n=4 agents"}},
  "y":{"field":"lo","type":"quantitative","scale":{"domain":[30.5,42.85],"nice":false,"zero":false},"axis":{"values":[32,34,36,38,40,42],"format":"d","title":"Mean Episode Length"}},
  "y2":{"field":"hi"},
  "fill":{"field":"s","type":"nominal","scale":{"domain":["Multi","Hybrid","Single"],"range":["#3c5c9e","#5aa462","#8d6c9e"]},"legend":null}}},
 {"data":{"name":"L"},"transform":[{"filter":"datum.p==='c'"}],"mark":{"type":"line","strokeWidth":1.2,"clip":true},"encoding":{
  "x":{"field":"x","type":"quantitative","scale":{"domain":[125,4990],"nice":false,"zero":false},"axis":{"values":[1000,2000,3000,4000],"format":"d","title":"(c)\u00a0 n=4 agents"}},
  "y":{"field":"y","type":"quantitative","scale":{"domain":[30.5,42.85],"nice":false,"zero":false},"axis":{"values":[32,34,36,38,40,42],"format":"d","title":"Mean Episode Length"}},
  "color":{"field":"s","type":"nominal","scale":{"domain":["Multi","Hybrid","Single"],"range":["#3c5c9e","#5aa462","#8d6c9e"]},"legend":{"title":null}}}}
]},
{"width":269,"height":209,"title":"Mean Episode Length","layer":[
 {"data":{"name":"B"},"transform":[{"filter":"datum.p==='d'"}],"mark":{"type":"area","opacity":0.25,"clip":true},"encoding":{
  "x":{"field":"x","type":"quantitative","scale":{"domain":[80,3640],"nice":false,"zero":false},"axis":{"values":[500,1000,1500,2000,2500,3000,3500],"format":"d","title":"(d)\u00a0 n=5 agents"}},
  "y":{"field":"lo","type":"quantitative","scale":{"domain":[26.3,39.08],"nice":false,"zero":false},"axis":{"values":[28,30,32,34,36,38],"format":"d","title":"Mean Episode Length"}},
  "y2":{"field":"hi"},
  "fill":{"field":"s","type":"nominal","scale":{"domain":["Multi","Hybrid","Single"],"range":["#3c5c9e","#5aa462","#8d6c9e"]},"legend":null}}},
 {"data":{"name":"L"},"transform":[{"filter":"datum.p==='d'"}],"mark":{"type":"line","strokeWidth":1.2,"clip":true},"encoding":{
  "x":{"field":"x","type":"quantitative","scale":{"domain":[80,3640],"nice":false,"zero":false},"axis":{"values":[500,1000,1500,2000,2500,3000,3500],"format":"d","title":"(d)\u00a0 n=5 agents"}},
  "y":{"field":"y","type":"quantitative","scale":{"domain":[26.3,39.08],"nice":false,"zero":false},"axis":{"values":[28,30,32,34,36,38],"format":"d","title":"Mean Episode Length"}},
  "color":{"field":"s","type":"nominal","scale":{"domain":["Multi","Hybrid","Single"],"range":["#3c5c9e","#5aa462","#8d6c9e"]},"legend":{"title":null}}}}
]},
{"width":269,"height":209,"title":"Mean Episode Length","layer":[
 {"data":{"name":"B"},"transform":[{"filter":"datum.p==='e'"}],"mark":{"type":"area","opacity":0.25,"clip":true},"encoding":{
  "x":{"field":"x","type":"quantitative","scale":{"domain":[70,2770],"nice":false,"zero":false},"axis":{"values":[500,1000,1500,2000,2500],"format":"d","title":"(e)\u00a0 n=6 agents"}},
  "y":{"field":"lo","type":"quantitative","scale":{"domain":[21.76,35.3],"nice":false,"zero":false},"axis":{"values":[22,24,26,28,30,32,34],"format":"d","title":"Mean Episode Length"}},
  "y2":{"field":"hi"},
  "fill":{"field":"s","type":"nominal","scale":{"domain":["Multi","Hybrid","Single"],"range":["#3c5c9e","#5aa462","#8d6c9e"]},"legend":null}}},
 {"data":{"name":"L"},"transform":[{"filter":"datum.p==='e'"}],"mark":{"type":"line","strokeWidth":1.2,"clip":true},"encoding":{
  "x":{"field":"x","type":"quantitative","scale":{"domain":[70,2770],"nice":false,"zero":false},"axis":{"values":[500,1000,1500,2000,2500],"format":"d","title":"(e)\u00a0 n=6 agents"}},
  "y":{"field":"y","type":"quantitative","scale":{"domain":[21.76,35.3],"nice":false,"zero":false},"axis":{"values":[22,24,26,28,30,32,34],"format":"d","title":"Mean Episode Length"}},
  "color":{"field":"s","type":"nominal","scale":{"domain":["Multi","Hybrid","Single"],"range":["#3c5c9e","#5aa462","#8d6c9e"]},"legend":{"title":null}}}}
]},
{"width":269,"height":209,"title":"Mean Episode Length","layer":[
 {"data":{"name":"B"},"transform":[{"filter":"datum.p==='f'"}],"mark":{"type":"area","opacity":0.25,"clip":true},"encoding":{
  "x":{"field":"x","type":"quantitative","scale":{"domain":[35,1690],"nice":false,"zero":false},"axis":{"values":[200,400,600,800,1000,1200,1400,1600],"format":"d","title":"(f)\u00a0 n=7 agents"}},
  "y":{"field":"lo","type":"quantitative","scale":{"domain":[18.85,27.38],"nice":false,"zero":false},"axis":{"values":[19,20,21,22,23,24,25,26,27],"format":"d","title":"Mean Episode Length"}},
  "y2":{"field":"hi"},
  "fill":{"field":"s","type":"nominal","scale":{"domain":["Multi","Hybrid","Single"],"range":["#3c5c9e","#5aa462","#8d6c9e"]},"legend":null}}},
 {"data":{"name":"L"},"transform":[{"filter":"datum.p==='f'"}],"mark":{"type":"line","strokeWidth":1.2,"clip":true},"encoding":{
  "x":{"field":"x","type":"quantitative","scale":{"domain":[35,1690],"nice":false,"zero":false},"axis":{"values":[200,400,600,800,1000,1200,1400,1600],"format":"d","title":"(f)\u00a0 n=7 agents"}},
  "y":{"field":"y","type":"quantitative","scale":{"domain":[18.85,27.38],"nice":false,"zero":false},"axis":{"values":[19,20,21,22,23,24,25,26,27],"format":"d","title":"Mean Episode Length"}},
  "color":{"field":"s","type":"nominal","scale":{"domain":["Multi","Hybrid","Single"],"range":["#3c5c9e","#5aa462","#8d6c9e"]},"legend":{"title":null}}}}
]}
],
"config": {
 "font": "DejaVu Sans",
 "view": {"stroke": "#4d4d4d", "strokeWidth": 1},
 "title": {"font": "DejaVu Sans", "fontSize": 7.8, "fontWeight": "normal", "color": "#262626", "offset": 3.5},
 "axis": {"labelFont": "DejaVu Sans", "labelFontSize": 5.9, "labelColor": "#333333", "tickSize": 3, "tickColor": "#4d4d4d", "tickWidth": 0.8, "domain": false, "grid": true, "gridColor": "#c4c4c4", "gridWidth": 1, "labelPadding": 1.5, "titleFontWeight": "normal", "labelOverlap": false, "labelFlush": false},
 "axisY": {"titleFont": "DejaVu Sans", "titleFontSize": 6.7, "titleColor": "#262626", "titlePadding": 4, "minExtent": 12, "maxExtent": 12},
 "axisX": {"titleFont": "Liberation Serif", "titleFontSize": 20, "titleColor": "#000000", "titlePadding": 14.5, "titleX": 117, "titleAlign": "center", "minExtent": 10, "maxExtent": 10},
 "legend": {"orient": "bottom-right", "offset": 3, "strokeColor": "#cccccc", "fillColor": "#ffffff", "padding": 3, "cornerRadius": 2, "labelFont": "DejaVu Sans", "labelFontSize": 6, "labelColor": "#262626", "symbolType": "stroke", "symbolSize": 225, "symbolStrokeWidth": 1.3, "rowPadding": 3.5, "clipHeight": 7, "labelOffset": 4}
}
}
